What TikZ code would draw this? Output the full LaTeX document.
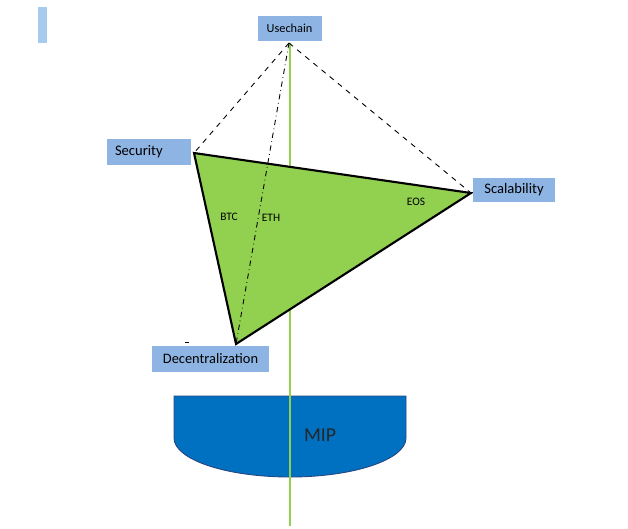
\documentclass[tikz,border=0pt]{standalone}
\usepackage{fontspec}
\setmainfont{Carlito}
\usepackage{tikz}
\usetikzlibrary{positioning}

\definecolor{boxblue}{RGB}{141,180,226}
\definecolor{barblue}{RGB}{167,203,239}
\definecolor{leafgreen}{RGB}{146,208,80}
\definecolor{mipblue}{RGB}{0,112,192}
\definecolor{mipedge}{RGB}{40,70,130}

\tikzset{
    corner/.style={fill=boxblue, inner sep=0pt, minimum height=0.5cm},
    coin/.style={font=\fontsize{6.5}{7}\selectfont},
}

\begin{document}
\begin{tikzpicture}[x=0.02cm, y=-0.02cm]
                \useasboundingbox (0, 0) rectangle (628, 528);
                \fill[barblue] (38, 7) rectangle (47, 43);

                % corners of the triangle and the top point
                \coordinate (u) at (289, 43);
                \coordinate (s) at (194, 153);
                \coordinate (c) at (471, 193);
                \coordinate (d) at (236, 344);
                \coordinate (top) at (290, 43);
                \coordinate (bot) at (290, 526);

                \filldraw[fill=mipblue, draw=mipedge, line width=0.5pt] (174, 396) -- (406, 396) -- (406, 438)
                    .. controls (406, 459.5) and (354, 477) .. (290, 477)
                    .. controls (226, 477) and (174, 459.5) .. (174, 438) -- cycle;
                \node[font=\fontsize{11.2}{13}\selectfont, text=black!85] (mip) at (320, 435) {MIP};

                \draw[leafgreen, line width=1.7pt] (top) -- (bot);
                \filldraw[fill=leafgreen, line width=1.2pt, line join=miter] (s) -- (c) -- (d) -- cycle;

                \draw[dashed, line width=0.5pt] (u) -- (s);
                \draw[dashed, line width=0.5pt] (u) -- (c);
                \draw[dash dot, line width=0.5pt] (u) -- (d);
                \draw[line width=0.5pt] (185, 342) -- (189, 342);

                \node[coin] (btc) at (229, 217) {BTC};
                \node[coin] (eth) at (271, 218) {ETH};
                \node[coin] (eos) at (416, 202) {EOS};

                \node[corner, minimum width=64*0.02cm, font=\fontsize{7}{8}\selectfont] (use) at (289.5, 28.5) {Usechain};
                \node[corner, minimum width=84*0.02cm, minimum height=26*0.02cm, text width=1.36cm, inner xsep=0.16cm, align=left, font=\fontsize{8.3}{9}\selectfont] (sec) at (149, 152) {Security};
                \node[corner, minimum width=82*0.02cm, minimum height=24*0.02cm, font=\fontsize{8.3}{9}\selectfont] (scal) at (514, 190) {Scalability};
                \node[corner, minimum width=117*0.02cm, minimum height=26*0.02cm, font=\fontsize{8.2}{9}\selectfont] (dec) at (210.5, 359) {Decentralization};
            \end{tikzpicture}
\end{document}
